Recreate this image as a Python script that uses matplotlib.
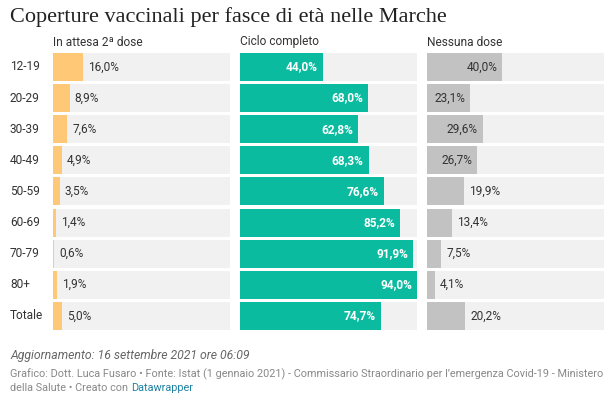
import matplotlib
matplotlib.use('Agg')
import matplotlib.pyplot as plt
import matplotlib.transforms as mtransforms

# data
groups = ['12-19', '20-29', '30-39', '40-49', '50-59', '60-69', '70-79', '80+', 'Totale']
attesa = [16.0, 8.9, 7.6, 4.9, 3.5, 1.4, 0.6, 1.9, 5.0]
completo = [44.0, 68.0, 62.8, 68.3, 76.6, 85.2, 91.9, 94.0, 74.7]
nessuna = [40.0, 23.1, 29.6, 26.7, 19.9, 13.4, 7.5, 4.1, 20.2]
headers = ['In attesa 2ª dose', 'Ciclo completo', 'Nessuna dose']

plt.rcParams['font.family'] = ['Roboto', 'DejaVu Sans']

W, H = 613, 397
fig = plt.figure(figsize=(W / 100, H / 100), dpi=100)

def px_axes(left, top, width, height):
    return fig.add_axes([left / W, 1 - (top + height) / H, width / W, height / H])

def fig_xy(x, y):
    return x / W, 1 - y / H

dark = '#333333'
bg = '#f1f1f1'
vmax = max(attesa + completo + nessuna)
pitch = 31.1
bar_h = 28 / pitch
panel_w = 177
lefts = [53, 240, 427]
colors = ['#fec877', '#0bbb9f', '#c2c2c2']
series = [attesa, completo, nessuna]

def fmt(v):
    return ('%.1f%%' % v).replace('.', ',')

axes = []
for i in range(3):
    ax = px_axes(lefts[i], 53 - (pitch - 28) / 2, panel_w, pitch * len(groups))
    ax.set_xlim(0, vmax)
    ax.set_ylim(len(groups) - 0.5, -0.5)
    ax.axis('off')
    ypos = range(len(groups))
    ax.barh(ypos, [vmax] * len(groups), height=bar_h, color=bg, linewidth=0)
    ax.barh(ypos, series[i], height=bar_h, color=colors[i], linewidth=0)
    off = 5 / panel_w * vmax
    for j, v in enumerate(series[i]):
        if i == 1:
            ax.text(v - off, j, fmt(v), ha='right', va='center', color='white',
                    fontsize=8.6, fontweight='bold')
        elif i == 2 and v > 21:
            ax.text(v - off, j, fmt(v), ha='right', va='center', color=dark, fontsize=8.6)
        else:
            ax.text(v + off, j, fmt(v), ha='left', va='center', color=dark, fontsize=8.6)
    fig.text(*fig_xy(lefts[i], 42), headers[i], ha='left', va='center', color=dark, fontsize=8.6)
    axes.append(ax)

# row labels
tr = mtransforms.blended_transform_factory(fig.transFigure, axes[0].transData)
for j, g in enumerate(groups):
    axes[0].text(10 / W, j, g, transform=tr, ha='left', va='center', color=dark, fontsize=8.6)

# title and notes
fig.text(*fig_xy(10, 22), 'Coperture vaccinali per fasce di età nelle Marche',
         family=['Liberation Serif', 'DejaVu Serif'], fontsize=16, color='#222222',
         ha='left', va='baseline')
fig.text(*fig_xy(10, 356), 'Aggiornamento: 16 settembre 2021 ore 06:09', style='italic',
         fontsize=8.8, color='#666666', ha='left', va='center')
fig.text(*fig_xy(10, 374), 'Grafico: Dott. Luca Fusaro • Fonte: Istat (1 gennaio 2021) - '
         'Commissario Straordinario per l’emergenza Covid-19 - Ministero',
         fontsize=7.8, color='#888888', ha='left', va='center')
t = fig.text(*fig_xy(10, 388), 'della Salute • Creato con ', fontsize=7.8, color='#888888',
             ha='left', va='center')
r = fig.canvas.get_renderer()
bb = t.get_window_extent(r)
fig.text(bb.x1 / W, 1 - 388 / H, 'Datawrapper', fontsize=7.8, color='#1d81a2',
         ha='left', va='center')

fig.savefig('out.png', dpi=100)
